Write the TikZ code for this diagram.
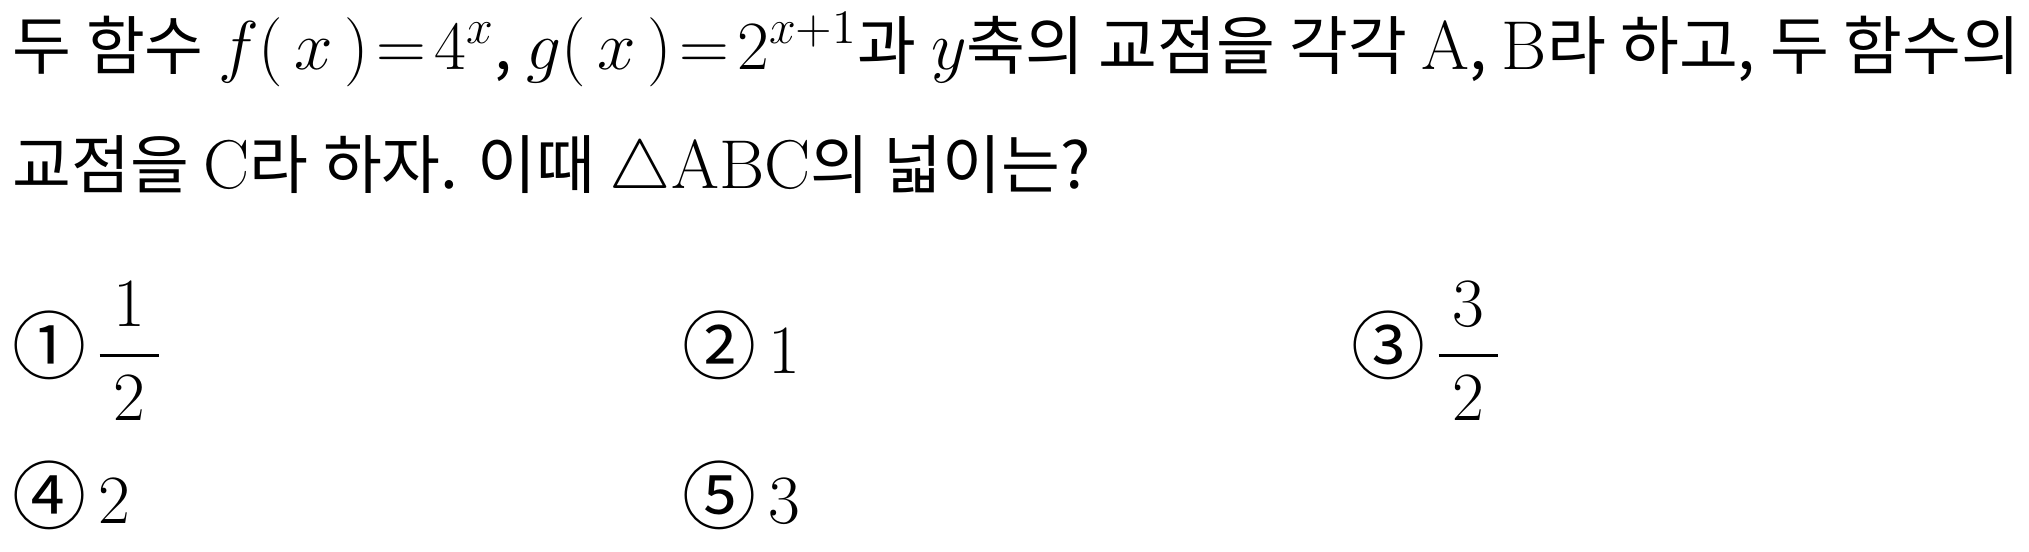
\documentclass[tikz,border=0pt]{standalone}
\usepackage{amsmath}
\usepackage[no-math]{fontspec}
\setmainfont{Noto Sans CJK KR}
\usetikzlibrary{positioning}

% larger maths inside the Korean lines
\newcommand{\qmath}[1]{{\fontsize{18}{20}\selectfont\thickmuskip=2mu$#1$}}
\newcommand{\circnum}[1]{{\fontsize{18.5}{22}\selectfont#1}}

\tikzset{
  qtext/.style={anchor=base west, inner sep=0pt, font=\fontsize{16}{19}\selectfont},
  choice/.style={anchor=base west, inner sep=0pt, font=\fontsize{17}{20}\selectfont}
}

\begin{document}
\begin{tikzpicture}[x=0.25pt, y=-0.25pt]
    % page frame
    \useasboundingbox (0,0) rectangle (2029,551);
    % question text
    \node[qtext] (q-line1) at (12,69)
    {두 함수 \qmath{f(\,x\,)=4^x}, \qmath{g(\,x\,)=2^{x+1}}과 \qmath{y}축의 교점을 각각 \qmath{\mathrm{A}}, \qmath{\mathrm{B}}라 하고, 두 함수의};
    \node[qtext] (q-line2) at (12,188)
    {교점을 \qmath{\mathrm{C}}라 하자. 이때 \qmath{\triangle\mathrm{ABC}}의 넓이는?};
    % choices, first row
    \node[choice] (choice-1) at (12,373)
    {\circnum{①}\kern2pt$\dfrac{\kern3.5pt1\kern3.5pt}{\kern3.5pt2\kern3.5pt}$};
    \node[choice] (choice-2) at (682,373)  {\circnum{②}\kern3pt$1$};
    \node[choice] (choice-3) at (1351,373)
    {\circnum{③}\kern2pt$\dfrac{\kern3.5pt3\kern3.5pt}{\kern3.5pt2\kern3.5pt}$};
    % choices, second row
    \node[choice] (choice-4) at (12,523)   {\circnum{④}\kern3pt$2$};
    \node[choice] (choice-5) at (682,523)  {\circnum{⑤}\kern3pt$3$};
\end{tikzpicture}
\end{document}
